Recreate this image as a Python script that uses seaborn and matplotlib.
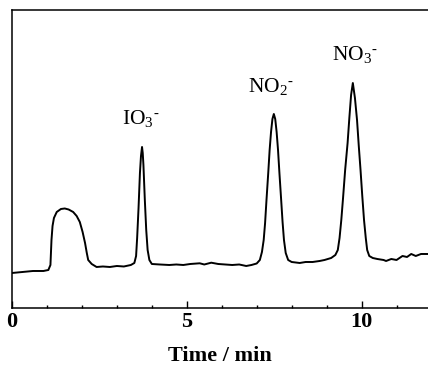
import matplotlib
matplotlib.use("Agg")
import matplotlib.pyplot as plt
import seaborn as sns
import pandas as pd

# Chromatogram trace (time in min, detector signal in arbitrary units)
time = [0.00, 0.30, 0.60, 0.90, 1.04, 1.10, 1.13, 1.16, 1.20, 1.28, 1.40, 1.51, 1.62, 1.75,
        1.85, 1.94, 2.02, 2.09, 2.14, 2.18, 2.28, 2.42, 2.60, 2.80, 3.00, 3.20, 3.40,
        3.50, 3.55, 3.58, 3.62, 3.66, 3.69, 3.72, 3.74, 3.76, 3.80, 3.84, 3.88, 3.93, 4.00,
        4.23, 4.50, 4.70, 4.90, 5.10, 5.37, 5.50, 5.70, 5.90, 6.10, 6.30, 6.50, 6.70, 6.85,
        7.00, 7.09, 7.15, 7.20, 7.24, 7.28, 7.33, 7.37, 7.41, 7.45, 7.49, 7.53, 7.57, 7.61,
        7.65, 7.70, 7.74, 7.78, 7.83, 7.90, 8.00, 8.23, 8.40, 8.60, 8.80, 8.94,
        9.13, 9.25, 9.32, 9.37, 9.42, 9.47, 9.53, 9.60, 9.65, 9.70, 9.75, 9.81, 9.87, 9.92,
        9.97, 10.02, 10.07, 10.12, 10.16, 10.22, 10.32, 10.45, 10.63, 10.70, 10.85, 11.00,
        11.17, 11.30, 11.42, 11.55, 11.70, 11.90]
signal = [35, 36, 37, 37, 38, 43, 68, 82, 90, 96, 99, 99.5, 98.5, 96,
          92, 86, 76, 65, 55, 48, 44, 41, 41.5, 41, 42, 41.5, 43,
          45, 52, 70, 100, 135, 152, 161, 155, 143, 108, 78, 58, 48, 44,
          43.5, 43, 43.5, 43, 44, 44.7, 43.5, 45.3, 44, 43.5, 43, 43.5, 42, 43,
          44.5, 48, 56, 68, 85, 108, 135, 158, 176, 189, 194, 189, 176, 158,
          135, 108, 86, 68, 55, 48, 46, 45, 46, 46, 47, 48,
          50, 53, 58, 70, 88, 110, 138, 165, 190, 213, 225, 210, 188, 162,
          138, 112, 88, 70, 58, 52, 50, 49, 48, 47, 49, 48,
          52, 51, 54, 52, 54, 54]

# Peak labels
peak_labels = [r"IO$_3{}^{\text{-}}$", r"NO$_2{}^{\text{-}}$", r"NO$_3{}^{\text{-}}$"]
label_time = [3.68, 7.40, 9.80]
label_signal = [184, 216, 248]

df = pd.DataFrame({"time": time, "signal": signal})

sns.set_style("ticks")
plt.rcParams["font.family"] = ["Liberation Serif", "DejaVu Serif"]
plt.rcParams["mathtext.fontset"] = "custom"
plt.rcParams["mathtext.rm"] = "Liberation Serif"
plt.rcParams["mathtext.it"] = "Liberation Serif:italic"
plt.rcParams["mathtext.bf"] = "Liberation Serif:bold"
for key in ["text.color", "axes.edgecolor", "axes.labelcolor", "xtick.color", "ytick.color"]:
    plt.rcParams[key] = "black"

fig = plt.figure(figsize=(4.28, 3.66), dpi=100)
ax = fig.add_axes([0.028, 0.1585, 0.972, 0.8142])

sns.lineplot(data=df, x="time", y="signal", sort=False, estimator=None,
             color="black", linewidth=1.4, ax=ax)

for lab, tx, ty in zip(peak_labels, label_time, label_signal):
    ax.text(tx, ty, lab, ha="center", va="baseline", fontsize=15.5)

ax.set_xlim(0, 11.9)
ax.set_ylim(0, 298)
ax.set_xticks([0, 5, 10])
ax.set_xticks(range(0, 12), minor=True)
ax.set_yticks([])
ax.tick_params(axis="x", which="major", direction="in", length=5, width=1.0,
               labelsize=16, pad=3)
ax.tick_params(axis="x", which="minor", direction="in", length=2.5, width=1.0)
for lbl in ax.get_xticklabels():
    lbl.set_fontweight("bold")
ax.set_xlabel("Time / min", fontsize=16, fontweight="bold", labelpad=10)
ax.set_ylabel("")

for side in ["left", "top", "bottom"]:
    ax.spines[side].set_linewidth(1.1)
ax.spines["right"].set_visible(False)

fig.savefig("out.png", dpi=100)
